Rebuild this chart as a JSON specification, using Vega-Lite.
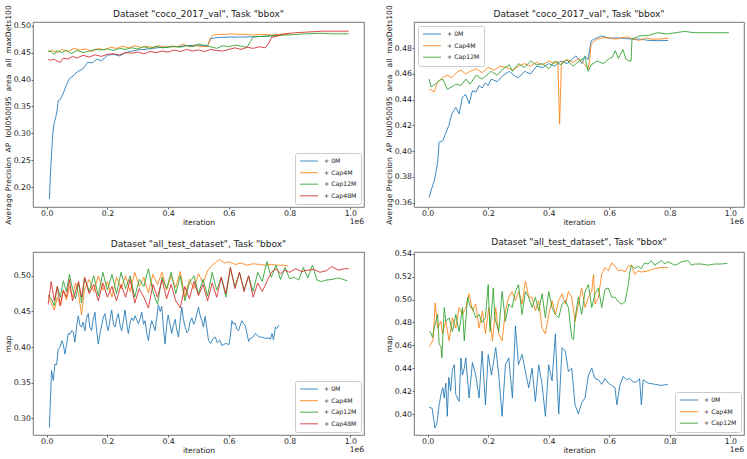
{
  "$schema": "https://vega.github.io/schema/vega-lite/v6.json",
  "padding": {"left": 3, "top": 4, "right": 0, "bottom": 0},
  "columns": 2,
  "spacing": {"row": 45, "column": 50},
  "bounds": "flush",
  "datasets": {
    "tl": [
      {"run": "+ 0M", "iter": 9000, "value": 0.178}, {"run": "+ 0M", "iter": 12000, "value": 0.22}, {"run": "+ 0M", "iter": 16000, "value": 0.26},
      {"run": "+ 0M", "iter": 20000, "value": 0.30}, {"run": "+ 0M", "iter": 25000, "value": 0.32}, {"run": "+ 0M", "iter": 30000, "value": 0.33},
      {"run": "+ 0M", "iter": 35000, "value": 0.345}, {"run": "+ 0M", "iter": 38000, "value": 0.361}, {"run": "+ 0M", "iter": 45000, "value": 0.363},
      {"run": "+ 0M", "iter": 55000, "value": 0.375}, {"run": "+ 0M", "iter": 65000, "value": 0.39}, {"run": "+ 0M", "iter": 75000, "value": 0.402},
      {"run": "+ 0M", "iter": 90000, "value": 0.408}, {"run": "+ 0M", "iter": 100000, "value": 0.414}, {"run": "+ 0M", "iter": 120000, "value": 0.42},
      {"run": "+ 0M", "iter": 135000, "value": 0.432}, {"run": "+ 0M", "iter": 150000, "value": 0.431}, {"run": "+ 0M", "iter": 165000, "value": 0.438},
      {"run": "+ 0M", "iter": 180000, "value": 0.435}, {"run": "+ 0M", "iter": 200000, "value": 0.445}, {"run": "+ 0M", "iter": 220000, "value": 0.447},
      {"run": "+ 0M", "iter": 240000, "value": 0.444}, {"run": "+ 0M", "iter": 260000, "value": 0.450}, {"run": "+ 0M", "iter": 280000, "value": 0.453},
      {"run": "+ 0M", "iter": 300000, "value": 0.455}, {"run": "+ 0M", "iter": 320000, "value": 0.456}, {"run": "+ 0M", "iter": 350000, "value": 0.458},
      {"run": "+ 0M", "iter": 380000, "value": 0.460}, {"run": "+ 0M", "iter": 400000, "value": 0.461}, {"run": "+ 0M", "iter": 430000, "value": 0.461},
      {"run": "+ 0M", "iter": 460000, "value": 0.463}, {"run": "+ 0M", "iter": 500000, "value": 0.464}, {"run": "+ 0M", "iter": 530000, "value": 0.463},
      {"run": "+ 0M", "iter": 540000, "value": 0.476}, {"run": "+ 0M", "iter": 560000, "value": 0.478}, {"run": "+ 0M", "iter": 600000, "value": 0.479},
      {"run": "+ 0M", "iter": 650000, "value": 0.479}, {"run": "+ 0M", "iter": 700000, "value": 0.480}, {"run": "+ 0M", "iter": 740000, "value": 0.481},
      {"run": "+ 0M", "iter": 770000, "value": 0.482},
      {"run": "+ Cap4M", "iter": 5000, "value": 0.452}, {"run": "+ Cap4M", "iter": 20000, "value": 0.454}, {"run": "+ Cap4M", "iter": 35000, "value": 0.450},
      {"run": "+ Cap4M", "iter": 50000, "value": 0.456}, {"run": "+ Cap4M", "iter": 70000, "value": 0.452}, {"run": "+ Cap4M", "iter": 90000, "value": 0.458},
      {"run": "+ Cap4M", "iter": 110000, "value": 0.455}, {"run": "+ Cap4M", "iter": 130000, "value": 0.457}, {"run": "+ Cap4M", "iter": 150000, "value": 0.452},
      {"run": "+ Cap4M", "iter": 170000, "value": 0.458}, {"run": "+ Cap4M", "iter": 190000, "value": 0.455}, {"run": "+ Cap4M", "iter": 210000, "value": 0.460},
      {"run": "+ Cap4M", "iter": 230000, "value": 0.458}, {"run": "+ Cap4M", "iter": 250000, "value": 0.462}, {"run": "+ Cap4M", "iter": 270000, "value": 0.459},
      {"run": "+ Cap4M", "iter": 290000, "value": 0.463}, {"run": "+ Cap4M", "iter": 310000, "value": 0.460}, {"run": "+ Cap4M", "iter": 330000, "value": 0.462},
      {"run": "+ Cap4M", "iter": 350000, "value": 0.459}, {"run": "+ Cap4M", "iter": 370000, "value": 0.463}, {"run": "+ Cap4M", "iter": 390000, "value": 0.460},
      {"run": "+ Cap4M", "iter": 410000, "value": 0.462}, {"run": "+ Cap4M", "iter": 430000, "value": 0.461}, {"run": "+ Cap4M", "iter": 450000, "value": 0.466},
      {"run": "+ Cap4M", "iter": 470000, "value": 0.461}, {"run": "+ Cap4M", "iter": 490000, "value": 0.463}, {"run": "+ Cap4M", "iter": 510000, "value": 0.461},
      {"run": "+ Cap4M", "iter": 530000, "value": 0.462}, {"run": "+ Cap4M", "iter": 540000, "value": 0.478}, {"run": "+ Cap4M", "iter": 550000, "value": 0.483},
      {"run": "+ Cap4M", "iter": 570000, "value": 0.484}, {"run": "+ Cap4M", "iter": 590000, "value": 0.484}, {"run": "+ Cap4M", "iter": 610000, "value": 0.485},
      {"run": "+ Cap4M", "iter": 630000, "value": 0.484}, {"run": "+ Cap4M", "iter": 650000, "value": 0.484}, {"run": "+ Cap4M", "iter": 680000, "value": 0.483},
      {"run": "+ Cap4M", "iter": 710000, "value": 0.484}, {"run": "+ Cap4M", "iter": 740000, "value": 0.483}, {"run": "+ Cap4M", "iter": 770000, "value": 0.484},
      {"run": "+ Cap4M", "iter": 800000, "value": 0.484},
      {"run": "+ Cap12M", "iter": 5000, "value": 0.453}, {"run": "+ Cap12M", "iter": 15000, "value": 0.452}, {"run": "+ Cap12M", "iter": 25000, "value": 0.447},
      {"run": "+ Cap12M", "iter": 35000, "value": 0.454}, {"run": "+ Cap12M", "iter": 50000, "value": 0.450}, {"run": "+ Cap12M", "iter": 65000, "value": 0.455},
      {"run": "+ Cap12M", "iter": 80000, "value": 0.448}, {"run": "+ Cap12M", "iter": 100000, "value": 0.454}, {"run": "+ Cap12M", "iter": 120000, "value": 0.450},
      {"run": "+ Cap12M", "iter": 140000, "value": 0.453}, {"run": "+ Cap12M", "iter": 160000, "value": 0.456}, {"run": "+ Cap12M", "iter": 180000, "value": 0.455},
      {"run": "+ Cap12M", "iter": 200000, "value": 0.457}, {"run": "+ Cap12M", "iter": 220000, "value": 0.454}, {"run": "+ Cap12M", "iter": 240000, "value": 0.458},
      {"run": "+ Cap12M", "iter": 260000, "value": 0.456}, {"run": "+ Cap12M", "iter": 280000, "value": 0.459}, {"run": "+ Cap12M", "iter": 300000, "value": 0.457},
      {"run": "+ Cap12M", "iter": 320000, "value": 0.461}, {"run": "+ Cap12M", "iter": 340000, "value": 0.458}, {"run": "+ Cap12M", "iter": 360000, "value": 0.462},
      {"run": "+ Cap12M", "iter": 380000, "value": 0.459}, {"run": "+ Cap12M", "iter": 400000, "value": 0.460}, {"run": "+ Cap12M", "iter": 420000, "value": 0.462},
      {"run": "+ Cap12M", "iter": 440000, "value": 0.460}, {"run": "+ Cap12M", "iter": 460000, "value": 0.463}, {"run": "+ Cap12M", "iter": 480000, "value": 0.461},
      {"run": "+ Cap12M", "iter": 500000, "value": 0.466}, {"run": "+ Cap12M", "iter": 520000, "value": 0.463}, {"run": "+ Cap12M", "iter": 540000, "value": 0.461},
      {"run": "+ Cap12M", "iter": 560000, "value": 0.458}, {"run": "+ Cap12M", "iter": 580000, "value": 0.463}, {"run": "+ Cap12M", "iter": 600000, "value": 0.461},
      {"run": "+ Cap12M", "iter": 620000, "value": 0.464}, {"run": "+ Cap12M", "iter": 640000, "value": 0.462}, {"run": "+ Cap12M", "iter": 660000, "value": 0.460},
      {"run": "+ Cap12M", "iter": 670000, "value": 0.470}, {"run": "+ Cap12M", "iter": 680000, "value": 0.479}, {"run": "+ Cap12M", "iter": 700000, "value": 0.480},
      {"run": "+ Cap12M", "iter": 730000, "value": 0.481}, {"run": "+ Cap12M", "iter": 760000, "value": 0.482}, {"run": "+ Cap12M", "iter": 800000, "value": 0.483},
      {"run": "+ Cap12M", "iter": 850000, "value": 0.485}, {"run": "+ Cap12M", "iter": 900000, "value": 0.486}, {"run": "+ Cap12M", "iter": 950000, "value": 0.485},
      {"run": "+ Cap12M", "iter": 995000, "value": 0.485},
      {"run": "+ Cap48M", "iter": 5000, "value": 0.437}, {"run": "+ Cap48M", "iter": 15000, "value": 0.436}, {"run": "+ Cap48M", "iter": 25000, "value": 0.438},
      {"run": "+ Cap48M", "iter": 35000, "value": 0.434}, {"run": "+ Cap48M", "iter": 45000, "value": 0.432}, {"run": "+ Cap48M", "iter": 55000, "value": 0.440},
      {"run": "+ Cap48M", "iter": 70000, "value": 0.438}, {"run": "+ Cap48M", "iter": 85000, "value": 0.443}, {"run": "+ Cap48M", "iter": 100000, "value": 0.440},
      {"run": "+ Cap48M", "iter": 120000, "value": 0.445}, {"run": "+ Cap48M", "iter": 140000, "value": 0.442}, {"run": "+ Cap48M", "iter": 160000, "value": 0.446},
      {"run": "+ Cap48M", "iter": 180000, "value": 0.443}, {"run": "+ Cap48M", "iter": 200000, "value": 0.447}, {"run": "+ Cap48M", "iter": 220000, "value": 0.448},
      {"run": "+ Cap48M", "iter": 240000, "value": 0.446}, {"run": "+ Cap48M", "iter": 260000, "value": 0.450}, {"run": "+ Cap48M", "iter": 280000, "value": 0.449},
      {"run": "+ Cap48M", "iter": 300000, "value": 0.451}, {"run": "+ Cap48M", "iter": 320000, "value": 0.448}, {"run": "+ Cap48M", "iter": 340000, "value": 0.452},
      {"run": "+ Cap48M", "iter": 360000, "value": 0.450}, {"run": "+ Cap48M", "iter": 380000, "value": 0.453}, {"run": "+ Cap48M", "iter": 400000, "value": 0.451},
      {"run": "+ Cap48M", "iter": 420000, "value": 0.455}, {"run": "+ Cap48M", "iter": 440000, "value": 0.452}, {"run": "+ Cap48M", "iter": 460000, "value": 0.456},
      {"run": "+ Cap48M", "iter": 480000, "value": 0.453}, {"run": "+ Cap48M", "iter": 500000, "value": 0.455}, {"run": "+ Cap48M", "iter": 520000, "value": 0.452},
      {"run": "+ Cap48M", "iter": 540000, "value": 0.456}, {"run": "+ Cap48M", "iter": 560000, "value": 0.454}, {"run": "+ Cap48M", "iter": 580000, "value": 0.453},
      {"run": "+ Cap48M", "iter": 600000, "value": 0.456}, {"run": "+ Cap48M", "iter": 620000, "value": 0.459}, {"run": "+ Cap48M", "iter": 640000, "value": 0.456},
      {"run": "+ Cap48M", "iter": 660000, "value": 0.460}, {"run": "+ Cap48M", "iter": 680000, "value": 0.458}, {"run": "+ Cap48M", "iter": 700000, "value": 0.461},
      {"run": "+ Cap48M", "iter": 720000, "value": 0.459}, {"run": "+ Cap48M", "iter": 730000, "value": 0.466}, {"run": "+ Cap48M", "iter": 740000, "value": 0.478},
      {"run": "+ Cap48M", "iter": 760000, "value": 0.481}, {"run": "+ Cap48M", "iter": 780000, "value": 0.485}, {"run": "+ Cap48M", "iter": 800000, "value": 0.486},
      {"run": "+ Cap48M", "iter": 820000, "value": 0.487}, {"run": "+ Cap48M", "iter": 850000, "value": 0.488}, {"run": "+ Cap48M", "iter": 880000, "value": 0.489},
      {"run": "+ Cap48M", "iter": 910000, "value": 0.490}, {"run": "+ Cap48M", "iter": 940000, "value": 0.490}, {"run": "+ Cap48M", "iter": 970000, "value": 0.490},
      {"run": "+ Cap48M", "iter": 995000, "value": 0.490}
    ],
    "tr": [
      {"run": "+ 0M", "iter": 5000, "value": 0.364}, {"run": "+ 0M", "iter": 12000, "value": 0.370}, {"run": "+ 0M", "iter": 22000, "value": 0.377},
      {"run": "+ 0M", "iter": 33000, "value": 0.391}, {"run": "+ 0M", "iter": 38000, "value": 0.407}, {"run": "+ 0M", "iter": 50000, "value": 0.408},
      {"run": "+ 0M", "iter": 60000, "value": 0.414}, {"run": "+ 0M", "iter": 70000, "value": 0.420}, {"run": "+ 0M", "iter": 80000, "value": 0.429},
      {"run": "+ 0M", "iter": 93000, "value": 0.434}, {"run": "+ 0M", "iter": 104000, "value": 0.429}, {"run": "+ 0M", "iter": 115000, "value": 0.442},
      {"run": "+ 0M", "iter": 126000, "value": 0.444}, {"run": "+ 0M", "iter": 137000, "value": 0.437}, {"run": "+ 0M", "iter": 148000, "value": 0.447},
      {"run": "+ 0M", "iter": 160000, "value": 0.446}, {"run": "+ 0M", "iter": 170000, "value": 0.451}, {"run": "+ 0M", "iter": 180000, "value": 0.449},
      {"run": "+ 0M", "iter": 190000, "value": 0.453}, {"run": "+ 0M", "iter": 200000, "value": 0.451}, {"run": "+ 0M", "iter": 210000, "value": 0.456},
      {"run": "+ 0M", "iter": 230000, "value": 0.454}, {"run": "+ 0M", "iter": 250000, "value": 0.459}, {"run": "+ 0M", "iter": 270000, "value": 0.462},
      {"run": "+ 0M", "iter": 290000, "value": 0.458}, {"run": "+ 0M", "iter": 300000, "value": 0.457}, {"run": "+ 0M", "iter": 320000, "value": 0.462},
      {"run": "+ 0M", "iter": 340000, "value": 0.460}, {"run": "+ 0M", "iter": 360000, "value": 0.466}, {"run": "+ 0M", "iter": 380000, "value": 0.465},
      {"run": "+ 0M", "iter": 400000, "value": 0.468}, {"run": "+ 0M", "iter": 420000, "value": 0.466}, {"run": "+ 0M", "iter": 440000, "value": 0.470},
      {"run": "+ 0M", "iter": 460000, "value": 0.468}, {"run": "+ 0M", "iter": 480000, "value": 0.472}, {"run": "+ 0M", "iter": 490000, "value": 0.474},
      {"run": "+ 0M", "iter": 510000, "value": 0.468}, {"run": "+ 0M", "iter": 520000, "value": 0.474}, {"run": "+ 0M", "iter": 530000, "value": 0.471},
      {"run": "+ 0M", "iter": 540000, "value": 0.4857}, {"run": "+ 0M", "iter": 560000, "value": 0.488}, {"run": "+ 0M", "iter": 575000, "value": 0.4895},
      {"run": "+ 0M", "iter": 600000, "value": 0.4877}, {"run": "+ 0M", "iter": 630000, "value": 0.488}, {"run": "+ 0M", "iter": 650000, "value": 0.4875},
      {"run": "+ 0M", "iter": 680000, "value": 0.487}, {"run": "+ 0M", "iter": 700000, "value": 0.487}, {"run": "+ 0M", "iter": 730000, "value": 0.486},
      {"run": "+ 0M", "iter": 760000, "value": 0.4858}, {"run": "+ 0M", "iter": 795000, "value": 0.486},
      {"run": "+ Cap4M", "iter": 5000, "value": 0.447}, {"run": "+ Cap4M", "iter": 11000, "value": 0.448}, {"run": "+ Cap4M", "iter": 22000, "value": 0.446},
      {"run": "+ Cap4M", "iter": 30000, "value": 0.452}, {"run": "+ Cap4M", "iter": 38000, "value": 0.455}, {"run": "+ Cap4M", "iter": 50000, "value": 0.457},
      {"run": "+ Cap4M", "iter": 65000, "value": 0.459}, {"run": "+ Cap4M", "iter": 80000, "value": 0.457}, {"run": "+ Cap4M", "iter": 95000, "value": 0.461},
      {"run": "+ Cap4M", "iter": 110000, "value": 0.463}, {"run": "+ Cap4M", "iter": 125000, "value": 0.460}, {"run": "+ Cap4M", "iter": 140000, "value": 0.462},
      {"run": "+ Cap4M", "iter": 160000, "value": 0.464}, {"run": "+ Cap4M", "iter": 180000, "value": 0.461}, {"run": "+ Cap4M", "iter": 200000, "value": 0.465},
      {"run": "+ Cap4M", "iter": 220000, "value": 0.463}, {"run": "+ Cap4M", "iter": 240000, "value": 0.466}, {"run": "+ Cap4M", "iter": 260000, "value": 0.465},
      {"run": "+ Cap4M", "iter": 280000, "value": 0.463}, {"run": "+ Cap4M", "iter": 300000, "value": 0.466}, {"run": "+ Cap4M", "iter": 320000, "value": 0.468},
      {"run": "+ Cap4M", "iter": 340000, "value": 0.466}, {"run": "+ Cap4M", "iter": 360000, "value": 0.469}, {"run": "+ Cap4M", "iter": 380000, "value": 0.467},
      {"run": "+ Cap4M", "iter": 400000, "value": 0.470}, {"run": "+ Cap4M", "iter": 420000, "value": 0.468}, {"run": "+ Cap4M", "iter": 430000, "value": 0.470},
      {"run": "+ Cap4M", "iter": 436000, "value": 0.421}, {"run": "+ Cap4M", "iter": 442000, "value": 0.469}, {"run": "+ Cap4M", "iter": 460000, "value": 0.471},
      {"run": "+ Cap4M", "iter": 480000, "value": 0.469}, {"run": "+ Cap4M", "iter": 500000, "value": 0.472}, {"run": "+ Cap4M", "iter": 520000, "value": 0.467},
      {"run": "+ Cap4M", "iter": 530000, "value": 0.464}, {"run": "+ Cap4M", "iter": 535000, "value": 0.470}, {"run": "+ Cap4M", "iter": 540000, "value": 0.483},
      {"run": "+ Cap4M", "iter": 560000, "value": 0.487}, {"run": "+ Cap4M", "iter": 580000, "value": 0.488}, {"run": "+ Cap4M", "iter": 600000, "value": 0.488},
      {"run": "+ Cap4M", "iter": 620000, "value": 0.487}, {"run": "+ Cap4M", "iter": 640000, "value": 0.488}, {"run": "+ Cap4M", "iter": 660000, "value": 0.4888},
      {"run": "+ Cap4M", "iter": 680000, "value": 0.487}, {"run": "+ Cap4M", "iter": 700000, "value": 0.486}, {"run": "+ Cap4M", "iter": 720000, "value": 0.488},
      {"run": "+ Cap4M", "iter": 740000, "value": 0.487}, {"run": "+ Cap4M", "iter": 760000, "value": 0.487}, {"run": "+ Cap4M", "iter": 795000, "value": 0.4877},
      {"run": "+ Cap12M", "iter": 5000, "value": 0.456}, {"run": "+ Cap12M", "iter": 11000, "value": 0.450}, {"run": "+ Cap12M", "iter": 25000, "value": 0.452},
      {"run": "+ Cap12M", "iter": 40000, "value": 0.455}, {"run": "+ Cap12M", "iter": 50000, "value": 0.456}, {"run": "+ Cap12M", "iter": 65000, "value": 0.448},
      {"run": "+ Cap12M", "iter": 80000, "value": 0.450}, {"run": "+ Cap12M", "iter": 93000, "value": 0.452}, {"run": "+ Cap12M", "iter": 110000, "value": 0.451},
      {"run": "+ Cap12M", "iter": 126000, "value": 0.456}, {"run": "+ Cap12M", "iter": 140000, "value": 0.452}, {"run": "+ Cap12M", "iter": 160000, "value": 0.459},
      {"run": "+ Cap12M", "iter": 180000, "value": 0.456}, {"run": "+ Cap12M", "iter": 200000, "value": 0.460}, {"run": "+ Cap12M", "iter": 210000, "value": 0.462},
      {"run": "+ Cap12M", "iter": 230000, "value": 0.459}, {"run": "+ Cap12M", "iter": 250000, "value": 0.464}, {"run": "+ Cap12M", "iter": 270000, "value": 0.467},
      {"run": "+ Cap12M", "iter": 280000, "value": 0.462}, {"run": "+ Cap12M", "iter": 300000, "value": 0.468}, {"run": "+ Cap12M", "iter": 320000, "value": 0.465},
      {"run": "+ Cap12M", "iter": 340000, "value": 0.470}, {"run": "+ Cap12M", "iter": 360000, "value": 0.467}, {"run": "+ Cap12M", "iter": 380000, "value": 0.468},
      {"run": "+ Cap12M", "iter": 400000, "value": 0.464}, {"run": "+ Cap12M", "iter": 420000, "value": 0.470}, {"run": "+ Cap12M", "iter": 440000, "value": 0.467},
      {"run": "+ Cap12M", "iter": 460000, "value": 0.471}, {"run": "+ Cap12M", "iter": 480000, "value": 0.466}, {"run": "+ Cap12M", "iter": 500000, "value": 0.470},
      {"run": "+ Cap12M", "iter": 520000, "value": 0.473}, {"run": "+ Cap12M", "iter": 530000, "value": 0.462}, {"run": "+ Cap12M", "iter": 540000, "value": 0.467},
      {"run": "+ Cap12M", "iter": 560000, "value": 0.470}, {"run": "+ Cap12M", "iter": 580000, "value": 0.468}, {"run": "+ Cap12M", "iter": 600000, "value": 0.472},
      {"run": "+ Cap12M", "iter": 610000, "value": 0.473}, {"run": "+ Cap12M", "iter": 620000, "value": 0.478}, {"run": "+ Cap12M", "iter": 630000, "value": 0.472},
      {"run": "+ Cap12M", "iter": 645000, "value": 0.479}, {"run": "+ Cap12M", "iter": 655000, "value": 0.4715}, {"run": "+ Cap12M", "iter": 665000, "value": 0.470},
      {"run": "+ Cap12M", "iter": 672000, "value": 0.470}, {"run": "+ Cap12M", "iter": 675000, "value": 0.487}, {"run": "+ Cap12M", "iter": 700000, "value": 0.4895},
      {"run": "+ Cap12M", "iter": 730000, "value": 0.490}, {"run": "+ Cap12M", "iter": 760000, "value": 0.492}, {"run": "+ Cap12M", "iter": 790000, "value": 0.491},
      {"run": "+ Cap12M", "iter": 820000, "value": 0.492}, {"run": "+ Cap12M", "iter": 850000, "value": 0.493}, {"run": "+ Cap12M", "iter": 880000, "value": 0.492},
      {"run": "+ Cap12M", "iter": 910000, "value": 0.492}, {"run": "+ Cap12M", "iter": 940000, "value": 0.492}, {"run": "+ Cap12M", "iter": 970000, "value": 0.492},
      {"run": "+ Cap12M", "iter": 995000, "value": 0.492}
    ],
    "bl": [
      {"run": "+ 0M", "iter": 9000, "value": 0.287}, {"run": "+ 0M", "iter": 16000, "value": 0.367}, {"run": "+ 0M", "iter": 22000, "value": 0.353},
      {"run": "+ 0M", "iter": 27000, "value": 0.376}, {"run": "+ 0M", "iter": 33000, "value": 0.375}, {"run": "+ 0M", "iter": 38000, "value": 0.397},
      {"run": "+ 0M", "iter": 44000, "value": 0.400}, {"run": "+ 0M", "iter": 50000, "value": 0.409}, {"run": "+ 0M", "iter": 55000, "value": 0.403},
      {"run": "+ 0M", "iter": 60000, "value": 0.390}, {"run": "+ 0M", "iter": 65000, "value": 0.402}, {"run": "+ 0M", "iter": 71000, "value": 0.419},
      {"run": "+ 0M", "iter": 77000, "value": 0.418}, {"run": "+ 0M", "iter": 82000, "value": 0.423}, {"run": "+ 0M", "iter": 88000, "value": 0.421},
      {"run": "+ 0M", "iter": 93000, "value": 0.407}, {"run": "+ 0M", "iter": 99000, "value": 0.430}, {"run": "+ 0M", "iter": 104000, "value": 0.444},
      {"run": "+ 0M", "iter": 110000, "value": 0.430}, {"run": "+ 0M", "iter": 115000, "value": 0.428}, {"run": "+ 0M", "iter": 120000, "value": 0.435},
      {"run": "+ 0M", "iter": 126000, "value": 0.423}, {"run": "+ 0M", "iter": 131000, "value": 0.440}, {"run": "+ 0M", "iter": 137000, "value": 0.447},
      {"run": "+ 0M", "iter": 142000, "value": 0.428}, {"run": "+ 0M", "iter": 148000, "value": 0.423}, {"run": "+ 0M", "iter": 153000, "value": 0.438},
      {"run": "+ 0M", "iter": 159000, "value": 0.449}, {"run": "+ 0M", "iter": 164000, "value": 0.425}, {"run": "+ 0M", "iter": 170000, "value": 0.404},
      {"run": "+ 0M", "iter": 176000, "value": 0.420}, {"run": "+ 0M", "iter": 181000, "value": 0.430}, {"run": "+ 0M", "iter": 187000, "value": 0.442},
      {"run": "+ 0M", "iter": 192000, "value": 0.447}, {"run": "+ 0M", "iter": 198000, "value": 0.430}, {"run": "+ 0M", "iter": 203000, "value": 0.423},
      {"run": "+ 0M", "iter": 209000, "value": 0.440}, {"run": "+ 0M", "iter": 214000, "value": 0.452}, {"run": "+ 0M", "iter": 220000, "value": 0.432},
      {"run": "+ 0M", "iter": 225000, "value": 0.428}, {"run": "+ 0M", "iter": 231000, "value": 0.440}, {"run": "+ 0M", "iter": 236000, "value": 0.447},
      {"run": "+ 0M", "iter": 242000, "value": 0.430}, {"run": "+ 0M", "iter": 247000, "value": 0.423}, {"run": "+ 0M", "iter": 253000, "value": 0.438},
      {"run": "+ 0M", "iter": 258000, "value": 0.452}, {"run": "+ 0M", "iter": 264000, "value": 0.432}, {"run": "+ 0M", "iter": 269000, "value": 0.419},
      {"run": "+ 0M", "iter": 275000, "value": 0.435}, {"run": "+ 0M", "iter": 280000, "value": 0.441}, {"run": "+ 0M", "iter": 286000, "value": 0.437},
      {"run": "+ 0M", "iter": 291000, "value": 0.444}, {"run": "+ 0M", "iter": 297000, "value": 0.438}, {"run": "+ 0M", "iter": 302000, "value": 0.433},
      {"run": "+ 0M", "iter": 308000, "value": 0.440}, {"run": "+ 0M", "iter": 313000, "value": 0.449}, {"run": "+ 0M", "iter": 319000, "value": 0.432},
      {"run": "+ 0M", "iter": 324000, "value": 0.437}, {"run": "+ 0M", "iter": 330000, "value": 0.418}, {"run": "+ 0M", "iter": 335000, "value": 0.409},
      {"run": "+ 0M", "iter": 340000, "value": 0.425}, {"run": "+ 0M", "iter": 346000, "value": 0.437}, {"run": "+ 0M", "iter": 352000, "value": 0.430},
      {"run": "+ 0M", "iter": 357000, "value": 0.423}, {"run": "+ 0M", "iter": 362000, "value": 0.440}, {"run": "+ 0M", "iter": 368000, "value": 0.459},
      {"run": "+ 0M", "iter": 374000, "value": 0.450}, {"run": "+ 0M", "iter": 379000, "value": 0.457}, {"run": "+ 0M", "iter": 385000, "value": 0.425},
      {"run": "+ 0M", "iter": 390000, "value": 0.404}, {"run": "+ 0M", "iter": 395000, "value": 0.430}, {"run": "+ 0M", "iter": 400000, "value": 0.445},
      {"run": "+ 0M", "iter": 406000, "value": 0.432}, {"run": "+ 0M", "iter": 412000, "value": 0.419}, {"run": "+ 0M", "iter": 417000, "value": 0.430},
      {"run": "+ 0M", "iter": 423000, "value": 0.439}, {"run": "+ 0M", "iter": 428000, "value": 0.425}, {"run": "+ 0M", "iter": 434000, "value": 0.414},
      {"run": "+ 0M", "iter": 440000, "value": 0.438}, {"run": "+ 0M", "iter": 445000, "value": 0.456}, {"run": "+ 0M", "iter": 450000, "value": 0.440},
      {"run": "+ 0M", "iter": 456000, "value": 0.428}, {"run": "+ 0M", "iter": 462000, "value": 0.420}, {"run": "+ 0M", "iter": 467000, "value": 0.423},
      {"run": "+ 0M", "iter": 472000, "value": 0.435}, {"run": "+ 0M", "iter": 478000, "value": 0.441}, {"run": "+ 0M", "iter": 484000, "value": 0.432},
      {"run": "+ 0M", "iter": 489000, "value": 0.437}, {"run": "+ 0M", "iter": 495000, "value": 0.448}, {"run": "+ 0M", "iter": 500000, "value": 0.456},
      {"run": "+ 0M", "iter": 505000, "value": 0.445}, {"run": "+ 0M", "iter": 511000, "value": 0.437}, {"run": "+ 0M", "iter": 516000, "value": 0.428},
      {"run": "+ 0M", "iter": 522000, "value": 0.443}, {"run": "+ 0M", "iter": 527000, "value": 0.428}, {"run": "+ 0M", "iter": 533000, "value": 0.409},
      {"run": "+ 0M", "iter": 540000, "value": 0.405}, {"run": "+ 0M", "iter": 548000, "value": 0.412}, {"run": "+ 0M", "iter": 555000, "value": 0.414},
      {"run": "+ 0M", "iter": 562000, "value": 0.406}, {"run": "+ 0M", "iter": 570000, "value": 0.410}, {"run": "+ 0M", "iter": 577000, "value": 0.402},
      {"run": "+ 0M", "iter": 585000, "value": 0.404}, {"run": "+ 0M", "iter": 592000, "value": 0.405}, {"run": "+ 0M", "iter": 600000, "value": 0.403},
      {"run": "+ 0M", "iter": 605000, "value": 0.415}, {"run": "+ 0M", "iter": 610000, "value": 0.437}, {"run": "+ 0M", "iter": 615000, "value": 0.432},
      {"run": "+ 0M", "iter": 620000, "value": 0.434}, {"run": "+ 0M", "iter": 626000, "value": 0.425}, {"run": "+ 0M", "iter": 632000, "value": 0.423},
      {"run": "+ 0M", "iter": 637000, "value": 0.430}, {"run": "+ 0M", "iter": 643000, "value": 0.437}, {"run": "+ 0M", "iter": 648000, "value": 0.433},
      {"run": "+ 0M", "iter": 654000, "value": 0.430}, {"run": "+ 0M", "iter": 660000, "value": 0.418}, {"run": "+ 0M", "iter": 665000, "value": 0.408},
      {"run": "+ 0M", "iter": 670000, "value": 0.412}, {"run": "+ 0M", "iter": 676000, "value": 0.413}, {"run": "+ 0M", "iter": 682000, "value": 0.415},
      {"run": "+ 0M", "iter": 687000, "value": 0.419}, {"run": "+ 0M", "iter": 693000, "value": 0.417}, {"run": "+ 0M", "iter": 700000, "value": 0.414},
      {"run": "+ 0M", "iter": 709000, "value": 0.414}, {"run": "+ 0M", "iter": 720000, "value": 0.412}, {"run": "+ 0M", "iter": 731000, "value": 0.413},
      {"run": "+ 0M", "iter": 737000, "value": 0.411}, {"run": "+ 0M", "iter": 742000, "value": 0.419}, {"run": "+ 0M", "iter": 747000, "value": 0.410},
      {"run": "+ 0M", "iter": 753000, "value": 0.428}, {"run": "+ 0M", "iter": 758000, "value": 0.426}, {"run": "+ 0M", "iter": 764000, "value": 0.431},
      {"run": "+ Cap4M", "iter": 5000, "value": 0.473}, {"run": "+ Cap4M", "iter": 15000, "value": 0.462}, {"run": "+ Cap4M", "iter": 25000, "value": 0.452},
      {"run": "+ Cap4M", "iter": 35000, "value": 0.470}, {"run": "+ Cap4M", "iter": 45000, "value": 0.458}, {"run": "+ Cap4M", "iter": 55000, "value": 0.480},
      {"run": "+ Cap4M", "iter": 65000, "value": 0.466}, {"run": "+ Cap4M", "iter": 75000, "value": 0.485}, {"run": "+ Cap4M", "iter": 85000, "value": 0.470},
      {"run": "+ Cap4M", "iter": 95000, "value": 0.490}, {"run": "+ Cap4M", "iter": 105000, "value": 0.475}, {"run": "+ Cap4M", "iter": 115000, "value": 0.445},
      {"run": "+ Cap4M", "iter": 125000, "value": 0.482}, {"run": "+ Cap4M", "iter": 140000, "value": 0.495}, {"run": "+ Cap4M", "iter": 155000, "value": 0.478},
      {"run": "+ Cap4M", "iter": 170000, "value": 0.500}, {"run": "+ Cap4M", "iter": 185000, "value": 0.480}, {"run": "+ Cap4M", "iter": 200000, "value": 0.492},
      {"run": "+ Cap4M", "iter": 215000, "value": 0.470}, {"run": "+ Cap4M", "iter": 230000, "value": 0.498}, {"run": "+ Cap4M", "iter": 245000, "value": 0.482},
      {"run": "+ Cap4M", "iter": 260000, "value": 0.500}, {"run": "+ Cap4M", "iter": 275000, "value": 0.478}, {"run": "+ Cap4M", "iter": 290000, "value": 0.505},
      {"run": "+ Cap4M", "iter": 305000, "value": 0.485}, {"run": "+ Cap4M", "iter": 320000, "value": 0.498}, {"run": "+ Cap4M", "iter": 335000, "value": 0.476},
      {"run": "+ Cap4M", "iter": 350000, "value": 0.502}, {"run": "+ Cap4M", "iter": 365000, "value": 0.488}, {"run": "+ Cap4M", "iter": 380000, "value": 0.505},
      {"run": "+ Cap4M", "iter": 395000, "value": 0.480}, {"run": "+ Cap4M", "iter": 410000, "value": 0.500}, {"run": "+ Cap4M", "iter": 425000, "value": 0.484},
      {"run": "+ Cap4M", "iter": 440000, "value": 0.506}, {"run": "+ Cap4M", "iter": 455000, "value": 0.470}, {"run": "+ Cap4M", "iter": 470000, "value": 0.495},
      {"run": "+ Cap4M", "iter": 485000, "value": 0.482}, {"run": "+ Cap4M", "iter": 500000, "value": 0.503}, {"run": "+ Cap4M", "iter": 515000, "value": 0.490},
      {"run": "+ Cap4M", "iter": 530000, "value": 0.507}, {"run": "+ Cap4M", "iter": 545000, "value": 0.515}, {"run": "+ Cap4M", "iter": 560000, "value": 0.520},
      {"run": "+ Cap4M", "iter": 570000, "value": 0.523}, {"run": "+ Cap4M", "iter": 585000, "value": 0.518}, {"run": "+ Cap4M", "iter": 600000, "value": 0.520},
      {"run": "+ Cap4M", "iter": 620000, "value": 0.516}, {"run": "+ Cap4M", "iter": 640000, "value": 0.518}, {"run": "+ Cap4M", "iter": 660000, "value": 0.515},
      {"run": "+ Cap4M", "iter": 680000, "value": 0.517}, {"run": "+ Cap4M", "iter": 700000, "value": 0.516}, {"run": "+ Cap4M", "iter": 720000, "value": 0.515},
      {"run": "+ Cap4M", "iter": 740000, "value": 0.516}, {"run": "+ Cap4M", "iter": 760000, "value": 0.515}, {"run": "+ Cap4M", "iter": 780000, "value": 0.515},
      {"run": "+ Cap4M", "iter": 795000, "value": 0.514},
      {"run": "+ Cap12M", "iter": 5000, "value": 0.473}, {"run": "+ Cap12M", "iter": 15000, "value": 0.468}, {"run": "+ Cap12M", "iter": 25000, "value": 0.458},
      {"run": "+ Cap12M", "iter": 35000, "value": 0.485}, {"run": "+ Cap12M", "iter": 45000, "value": 0.470}, {"run": "+ Cap12M", "iter": 55000, "value": 0.493},
      {"run": "+ Cap12M", "iter": 65000, "value": 0.478}, {"run": "+ Cap12M", "iter": 75000, "value": 0.502}, {"run": "+ Cap12M", "iter": 85000, "value": 0.482},
      {"run": "+ Cap12M", "iter": 95000, "value": 0.468}, {"run": "+ Cap12M", "iter": 105000, "value": 0.490}, {"run": "+ Cap12M", "iter": 115000, "value": 0.462},
      {"run": "+ Cap12M", "iter": 125000, "value": 0.497}, {"run": "+ Cap12M", "iter": 140000, "value": 0.478}, {"run": "+ Cap12M", "iter": 155000, "value": 0.500},
      {"run": "+ Cap12M", "iter": 170000, "value": 0.472}, {"run": "+ Cap12M", "iter": 185000, "value": 0.505}, {"run": "+ Cap12M", "iter": 200000, "value": 0.480},
      {"run": "+ Cap12M", "iter": 215000, "value": 0.502}, {"run": "+ Cap12M", "iter": 230000, "value": 0.475}, {"run": "+ Cap12M", "iter": 245000, "value": 0.505},
      {"run": "+ Cap12M", "iter": 260000, "value": 0.482}, {"run": "+ Cap12M", "iter": 275000, "value": 0.500}, {"run": "+ Cap12M", "iter": 290000, "value": 0.470},
      {"run": "+ Cap12M", "iter": 305000, "value": 0.495}, {"run": "+ Cap12M", "iter": 320000, "value": 0.485}, {"run": "+ Cap12M", "iter": 335000, "value": 0.510},
      {"run": "+ Cap12M", "iter": 350000, "value": 0.478}, {"run": "+ Cap12M", "iter": 365000, "value": 0.460}, {"run": "+ Cap12M", "iter": 380000, "value": 0.498},
      {"run": "+ Cap12M", "iter": 395000, "value": 0.482}, {"run": "+ Cap12M", "iter": 410000, "value": 0.505}, {"run": "+ Cap12M", "iter": 425000, "value": 0.475},
      {"run": "+ Cap12M", "iter": 440000, "value": 0.500}, {"run": "+ Cap12M", "iter": 455000, "value": 0.465}, {"run": "+ Cap12M", "iter": 470000, "value": 0.490},
      {"run": "+ Cap12M", "iter": 485000, "value": 0.500}, {"run": "+ Cap12M", "iter": 500000, "value": 0.475}, {"run": "+ Cap12M", "iter": 515000, "value": 0.495},
      {"run": "+ Cap12M", "iter": 530000, "value": 0.472}, {"run": "+ Cap12M", "iter": 545000, "value": 0.505}, {"run": "+ Cap12M", "iter": 560000, "value": 0.480},
      {"run": "+ Cap12M", "iter": 575000, "value": 0.498}, {"run": "+ Cap12M", "iter": 590000, "value": 0.470}, {"run": "+ Cap12M", "iter": 605000, "value": 0.510},
      {"run": "+ Cap12M", "iter": 620000, "value": 0.485}, {"run": "+ Cap12M", "iter": 635000, "value": 0.505}, {"run": "+ Cap12M", "iter": 650000, "value": 0.480},
      {"run": "+ Cap12M", "iter": 665000, "value": 0.500}, {"run": "+ Cap12M", "iter": 680000, "value": 0.478}, {"run": "+ Cap12M", "iter": 695000, "value": 0.505},
      {"run": "+ Cap12M", "iter": 710000, "value": 0.492}, {"run": "+ Cap12M", "iter": 725000, "value": 0.520}, {"run": "+ Cap12M", "iter": 740000, "value": 0.498},
      {"run": "+ Cap12M", "iter": 755000, "value": 0.515}, {"run": "+ Cap12M", "iter": 770000, "value": 0.495}, {"run": "+ Cap12M", "iter": 785000, "value": 0.512},
      {"run": "+ Cap12M", "iter": 800000, "value": 0.496}, {"run": "+ Cap12M", "iter": 815000, "value": 0.498}, {"run": "+ Cap12M", "iter": 830000, "value": 0.494},
      {"run": "+ Cap12M", "iter": 845000, "value": 0.512}, {"run": "+ Cap12M", "iter": 860000, "value": 0.497}, {"run": "+ Cap12M", "iter": 875000, "value": 0.515},
      {"run": "+ Cap12M", "iter": 890000, "value": 0.494}, {"run": "+ Cap12M", "iter": 905000, "value": 0.492}, {"run": "+ Cap12M", "iter": 920000, "value": 0.494},
      {"run": "+ Cap12M", "iter": 940000, "value": 0.495}, {"run": "+ Cap12M", "iter": 960000, "value": 0.497}, {"run": "+ Cap12M", "iter": 975000, "value": 0.495},
      {"run": "+ Cap12M", "iter": 990000, "value": 0.493},
      {"run": "+ Cap48M", "iter": 5000, "value": 0.460}, {"run": "+ Cap48M", "iter": 15000, "value": 0.492}, {"run": "+ Cap48M", "iter": 25000, "value": 0.465},
      {"run": "+ Cap48M", "iter": 35000, "value": 0.485}, {"run": "+ Cap48M", "iter": 45000, "value": 0.458}, {"run": "+ Cap48M", "iter": 55000, "value": 0.480},
      {"run": "+ Cap48M", "iter": 65000, "value": 0.470}, {"run": "+ Cap48M", "iter": 75000, "value": 0.495}, {"run": "+ Cap48M", "iter": 85000, "value": 0.465},
      {"run": "+ Cap48M", "iter": 95000, "value": 0.478}, {"run": "+ Cap48M", "iter": 105000, "value": 0.492}, {"run": "+ Cap48M", "iter": 115000, "value": 0.470},
      {"run": "+ Cap48M", "iter": 125000, "value": 0.498}, {"run": "+ Cap48M", "iter": 140000, "value": 0.475}, {"run": "+ Cap48M", "iter": 155000, "value": 0.488},
      {"run": "+ Cap48M", "iter": 170000, "value": 0.465}, {"run": "+ Cap48M", "iter": 185000, "value": 0.490}, {"run": "+ Cap48M", "iter": 200000, "value": 0.470},
      {"run": "+ Cap48M", "iter": 215000, "value": 0.485}, {"run": "+ Cap48M", "iter": 230000, "value": 0.465}, {"run": "+ Cap48M", "iter": 245000, "value": 0.488},
      {"run": "+ Cap48M", "iter": 260000, "value": 0.470}, {"run": "+ Cap48M", "iter": 275000, "value": 0.495}, {"run": "+ Cap48M", "iter": 290000, "value": 0.462},
      {"run": "+ Cap48M", "iter": 305000, "value": 0.482}, {"run": "+ Cap48M", "iter": 320000, "value": 0.470}, {"run": "+ Cap48M", "iter": 335000, "value": 0.455},
      {"run": "+ Cap48M", "iter": 350000, "value": 0.488}, {"run": "+ Cap48M", "iter": 365000, "value": 0.470}, {"run": "+ Cap48M", "iter": 380000, "value": 0.495},
      {"run": "+ Cap48M", "iter": 395000, "value": 0.468}, {"run": "+ Cap48M", "iter": 410000, "value": 0.488}, {"run": "+ Cap48M", "iter": 425000, "value": 0.465},
      {"run": "+ Cap48M", "iter": 440000, "value": 0.455}, {"run": "+ Cap48M", "iter": 455000, "value": 0.485}, {"run": "+ Cap48M", "iter": 470000, "value": 0.468},
      {"run": "+ Cap48M", "iter": 485000, "value": 0.492}, {"run": "+ Cap48M", "iter": 500000, "value": 0.472}, {"run": "+ Cap48M", "iter": 515000, "value": 0.488},
      {"run": "+ Cap48M", "iter": 530000, "value": 0.465}, {"run": "+ Cap48M", "iter": 545000, "value": 0.490}, {"run": "+ Cap48M", "iter": 560000, "value": 0.470},
      {"run": "+ Cap48M", "iter": 575000, "value": 0.498}, {"run": "+ Cap48M", "iter": 590000, "value": 0.475}, {"run": "+ Cap48M", "iter": 605000, "value": 0.512},
      {"run": "+ Cap48M", "iter": 620000, "value": 0.482}, {"run": "+ Cap48M", "iter": 635000, "value": 0.505}, {"run": "+ Cap48M", "iter": 650000, "value": 0.478},
      {"run": "+ Cap48M", "iter": 665000, "value": 0.500}, {"run": "+ Cap48M", "iter": 680000, "value": 0.470}, {"run": "+ Cap48M", "iter": 695000, "value": 0.490},
      {"run": "+ Cap48M", "iter": 710000, "value": 0.478}, {"run": "+ Cap48M", "iter": 725000, "value": 0.492}, {"run": "+ Cap48M", "iter": 740000, "value": 0.505},
      {"run": "+ Cap48M", "iter": 755000, "value": 0.510}, {"run": "+ Cap48M", "iter": 770000, "value": 0.503}, {"run": "+ Cap48M", "iter": 785000, "value": 0.508},
      {"run": "+ Cap48M", "iter": 800000, "value": 0.505}, {"run": "+ Cap48M", "iter": 820000, "value": 0.510}, {"run": "+ Cap48M", "iter": 840000, "value": 0.506},
      {"run": "+ Cap48M", "iter": 860000, "value": 0.508}, {"run": "+ Cap48M", "iter": 880000, "value": 0.509}, {"run": "+ Cap48M", "iter": 900000, "value": 0.505},
      {"run": "+ Cap48M", "iter": 920000, "value": 0.507}, {"run": "+ Cap48M", "iter": 940000, "value": 0.513}, {"run": "+ Cap48M", "iter": 960000, "value": 0.508},
      {"run": "+ Cap48M", "iter": 980000, "value": 0.510}, {"run": "+ Cap48M", "iter": 995000, "value": 0.510}
    ],
    "br": [
      {"run": "+ 0M", "iter": 5000, "value": 0.406}, {"run": "+ 0M", "iter": 15000, "value": 0.405}, {"run": "+ 0M", "iter": 24000, "value": 0.388},
      {"run": "+ 0M", "iter": 30000, "value": 0.391}, {"run": "+ 0M", "iter": 38000, "value": 0.408}, {"run": "+ 0M", "iter": 44000, "value": 0.417},
      {"run": "+ 0M", "iter": 50000, "value": 0.423}, {"run": "+ 0M", "iter": 55000, "value": 0.414}, {"run": "+ 0M", "iter": 60000, "value": 0.427},
      {"run": "+ 0M", "iter": 65000, "value": 0.398}, {"run": "+ 0M", "iter": 70000, "value": 0.432}, {"run": "+ 0M", "iter": 76000, "value": 0.420},
      {"run": "+ 0M", "iter": 82000, "value": 0.439}, {"run": "+ 0M", "iter": 88000, "value": 0.443}, {"run": "+ 0M", "iter": 93000, "value": 0.417},
      {"run": "+ 0M", "iter": 104000, "value": 0.411}, {"run": "+ 0M", "iter": 110000, "value": 0.449}, {"run": "+ 0M", "iter": 115000, "value": 0.434},
      {"run": "+ 0M", "iter": 121000, "value": 0.440}, {"run": "+ 0M", "iter": 126000, "value": 0.449}, {"run": "+ 0M", "iter": 137000, "value": 0.414},
      {"run": "+ 0M", "iter": 148000, "value": 0.445}, {"run": "+ 0M", "iter": 159000, "value": 0.434}, {"run": "+ 0M", "iter": 170000, "value": 0.414},
      {"run": "+ 0M", "iter": 180000, "value": 0.455}, {"run": "+ 0M", "iter": 191000, "value": 0.408}, {"run": "+ 0M", "iter": 200000, "value": 0.452},
      {"run": "+ 0M", "iter": 211000, "value": 0.434}, {"run": "+ 0M", "iter": 225000, "value": 0.458}, {"run": "+ 0M", "iter": 235000, "value": 0.434},
      {"run": "+ 0M", "iter": 246000, "value": 0.398}, {"run": "+ 0M", "iter": 257000, "value": 0.443}, {"run": "+ 0M", "iter": 268000, "value": 0.449},
      {"run": "+ 0M", "iter": 280000, "value": 0.414}, {"run": "+ 0M", "iter": 290000, "value": 0.477}, {"run": "+ 0M", "iter": 300000, "value": 0.443},
      {"run": "+ 0M", "iter": 312000, "value": 0.452}, {"run": "+ 0M", "iter": 323000, "value": 0.437}, {"run": "+ 0M", "iter": 334000, "value": 0.423},
      {"run": "+ 0M", "iter": 345000, "value": 0.440}, {"run": "+ 0M", "iter": 356000, "value": 0.411}, {"run": "+ 0M", "iter": 367000, "value": 0.443},
      {"run": "+ 0M", "iter": 378000, "value": 0.426}, {"run": "+ 0M", "iter": 389000, "value": 0.398}, {"run": "+ 0M", "iter": 400000, "value": 0.443},
      {"run": "+ 0M", "iter": 411000, "value": 0.429}, {"run": "+ 0M", "iter": 422000, "value": 0.470}, {"run": "+ 0M", "iter": 428000, "value": 0.429},
      {"run": "+ 0M", "iter": 433000, "value": 0.400}, {"run": "+ 0M", "iter": 444000, "value": 0.458}, {"run": "+ 0M", "iter": 455000, "value": 0.455},
      {"run": "+ 0M", "iter": 465000, "value": 0.437}, {"run": "+ 0M", "iter": 476000, "value": 0.440}, {"run": "+ 0M", "iter": 487000, "value": 0.408},
      {"run": "+ 0M", "iter": 498000, "value": 0.400}, {"run": "+ 0M", "iter": 509000, "value": 0.410}, {"run": "+ 0M", "iter": 520000, "value": 0.414},
      {"run": "+ 0M", "iter": 531000, "value": 0.434}, {"run": "+ 0M", "iter": 542000, "value": 0.440}, {"run": "+ 0M", "iter": 553000, "value": 0.431},
      {"run": "+ 0M", "iter": 564000, "value": 0.430}, {"run": "+ 0M", "iter": 575000, "value": 0.426}, {"run": "+ 0M", "iter": 586000, "value": 0.431},
      {"run": "+ 0M", "iter": 597000, "value": 0.427}, {"run": "+ 0M", "iter": 608000, "value": 0.425}, {"run": "+ 0M", "iter": 619000, "value": 0.423},
      {"run": "+ 0M", "iter": 625000, "value": 0.408}, {"run": "+ 0M", "iter": 635000, "value": 0.425}, {"run": "+ 0M", "iter": 646000, "value": 0.433},
      {"run": "+ 0M", "iter": 657000, "value": 0.430}, {"run": "+ 0M", "iter": 668000, "value": 0.431}, {"run": "+ 0M", "iter": 679000, "value": 0.428},
      {"run": "+ 0M", "iter": 690000, "value": 0.428}, {"run": "+ 0M", "iter": 700000, "value": 0.431}, {"run": "+ 0M", "iter": 706000, "value": 0.408},
      {"run": "+ 0M", "iter": 712000, "value": 0.430}, {"run": "+ 0M", "iter": 728000, "value": 0.427}, {"run": "+ 0M", "iter": 750000, "value": 0.426},
      {"run": "+ 0M", "iter": 772000, "value": 0.425}, {"run": "+ 0M", "iter": 794000, "value": 0.426},
      {"run": "+ Cap4M", "iter": 5000, "value": 0.459}, {"run": "+ Cap4M", "iter": 11000, "value": 0.461}, {"run": "+ Cap4M", "iter": 18000, "value": 0.465},
      {"run": "+ Cap4M", "iter": 25000, "value": 0.497}, {"run": "+ Cap4M", "iter": 33000, "value": 0.475}, {"run": "+ Cap4M", "iter": 44000, "value": 0.481},
      {"run": "+ Cap4M", "iter": 49000, "value": 0.470}, {"run": "+ Cap4M", "iter": 60000, "value": 0.481}, {"run": "+ Cap4M", "iter": 71000, "value": 0.464},
      {"run": "+ Cap4M", "iter": 82000, "value": 0.484}, {"run": "+ Cap4M", "iter": 93000, "value": 0.475}, {"run": "+ Cap4M", "iter": 104000, "value": 0.493},
      {"run": "+ Cap4M", "iter": 115000, "value": 0.487}, {"run": "+ Cap4M", "iter": 126000, "value": 0.493}, {"run": "+ Cap4M", "iter": 137000, "value": 0.505},
      {"run": "+ Cap4M", "iter": 148000, "value": 0.490}, {"run": "+ Cap4M", "iter": 159000, "value": 0.496}, {"run": "+ Cap4M", "iter": 170000, "value": 0.475},
      {"run": "+ Cap4M", "iter": 181000, "value": 0.490}, {"run": "+ Cap4M", "iter": 191000, "value": 0.470}, {"run": "+ Cap4M", "iter": 202000, "value": 0.493},
      {"run": "+ Cap4M", "iter": 214000, "value": 0.464}, {"run": "+ Cap4M", "iter": 225000, "value": 0.493}, {"run": "+ Cap4M", "iter": 235000, "value": 0.470},
      {"run": "+ Cap4M", "iter": 246000, "value": 0.464}, {"run": "+ Cap4M", "iter": 257000, "value": 0.490}, {"run": "+ Cap4M", "iter": 268000, "value": 0.502},
      {"run": "+ Cap4M", "iter": 279000, "value": 0.507}, {"run": "+ Cap4M", "iter": 290000, "value": 0.499}, {"run": "+ Cap4M", "iter": 301000, "value": 0.507},
      {"run": "+ Cap4M", "iter": 312000, "value": 0.496}, {"run": "+ Cap4M", "iter": 323000, "value": 0.516}, {"run": "+ Cap4M", "iter": 334000, "value": 0.502},
      {"run": "+ Cap4M", "iter": 345000, "value": 0.502}, {"run": "+ Cap4M", "iter": 356000, "value": 0.490}, {"run": "+ Cap4M", "iter": 367000, "value": 0.499},
      {"run": "+ Cap4M", "iter": 378000, "value": 0.475}, {"run": "+ Cap4M", "iter": 389000, "value": 0.470}, {"run": "+ Cap4M", "iter": 400000, "value": 0.487},
      {"run": "+ Cap4M", "iter": 411000, "value": 0.499}, {"run": "+ Cap4M", "iter": 422000, "value": 0.487}, {"run": "+ Cap4M", "iter": 433000, "value": 0.499},
      {"run": "+ Cap4M", "iter": 444000, "value": 0.505}, {"run": "+ Cap4M", "iter": 455000, "value": 0.496}, {"run": "+ Cap4M", "iter": 465000, "value": 0.507},
      {"run": "+ Cap4M", "iter": 476000, "value": 0.502}, {"run": "+ Cap4M", "iter": 487000, "value": 0.481}, {"run": "+ Cap4M", "iter": 498000, "value": 0.496},
      {"run": "+ Cap4M", "iter": 509000, "value": 0.510}, {"run": "+ Cap4M", "iter": 520000, "value": 0.493}, {"run": "+ Cap4M", "iter": 531000, "value": 0.502},
      {"run": "+ Cap4M", "iter": 542000, "value": 0.507}, {"run": "+ Cap4M", "iter": 548000, "value": 0.522}, {"run": "+ Cap4M", "iter": 553000, "value": 0.496},
      {"run": "+ Cap4M", "iter": 564000, "value": 0.502}, {"run": "+ Cap4M", "iter": 575000, "value": 0.522}, {"run": "+ Cap4M", "iter": 586000, "value": 0.528},
      {"run": "+ Cap4M", "iter": 597000, "value": 0.525}, {"run": "+ Cap4M", "iter": 608000, "value": 0.532}, {"run": "+ Cap4M", "iter": 619000, "value": 0.529},
      {"run": "+ Cap4M", "iter": 630000, "value": 0.525}, {"run": "+ Cap4M", "iter": 641000, "value": 0.526}, {"run": "+ Cap4M", "iter": 652000, "value": 0.524},
      {"run": "+ Cap4M", "iter": 663000, "value": 0.529}, {"run": "+ Cap4M", "iter": 673000, "value": 0.530}, {"run": "+ Cap4M", "iter": 684000, "value": 0.522},
      {"run": "+ Cap4M", "iter": 695000, "value": 0.525}, {"run": "+ Cap4M", "iter": 706000, "value": 0.524}, {"run": "+ Cap4M", "iter": 728000, "value": 0.525},
      {"run": "+ Cap4M", "iter": 750000, "value": 0.527}, {"run": "+ Cap4M", "iter": 772000, "value": 0.528}, {"run": "+ Cap4M", "iter": 794000, "value": 0.528},
      {"run": "+ Cap12M", "iter": 5000, "value": 0.472}, {"run": "+ Cap12M", "iter": 11000, "value": 0.471}, {"run": "+ Cap12M", "iter": 16000, "value": 0.467},
      {"run": "+ Cap12M", "iter": 22000, "value": 0.475}, {"run": "+ Cap12M", "iter": 33000, "value": 0.487}, {"run": "+ Cap12M", "iter": 38000, "value": 0.461},
      {"run": "+ Cap12M", "iter": 44000, "value": 0.459}, {"run": "+ Cap12M", "iter": 47000, "value": 0.449}, {"run": "+ Cap12M", "iter": 55000, "value": 0.493},
      {"run": "+ Cap12M", "iter": 60000, "value": 0.481}, {"run": "+ Cap12M", "iter": 71000, "value": 0.484}, {"run": "+ Cap12M", "iter": 82000, "value": 0.472},
      {"run": "+ Cap12M", "iter": 93000, "value": 0.487}, {"run": "+ Cap12M", "iter": 104000, "value": 0.472}, {"run": "+ Cap12M", "iter": 115000, "value": 0.493},
      {"run": "+ Cap12M", "iter": 121000, "value": 0.464}, {"run": "+ Cap12M", "iter": 132000, "value": 0.502}, {"run": "+ Cap12M", "iter": 142000, "value": 0.493},
      {"run": "+ Cap12M", "iter": 148000, "value": 0.493}, {"run": "+ Cap12M", "iter": 159000, "value": 0.484}, {"run": "+ Cap12M", "iter": 170000, "value": 0.487},
      {"run": "+ Cap12M", "iter": 180000, "value": 0.480}, {"run": "+ Cap12M", "iter": 191000, "value": 0.484}, {"run": "+ Cap12M", "iter": 200000, "value": 0.513},
      {"run": "+ Cap12M", "iter": 206000, "value": 0.472}, {"run": "+ Cap12M", "iter": 217000, "value": 0.510}, {"run": "+ Cap12M", "iter": 222000, "value": 0.484},
      {"run": "+ Cap12M", "iter": 235000, "value": 0.472}, {"run": "+ Cap12M", "iter": 246000, "value": 0.507}, {"run": "+ Cap12M", "iter": 257000, "value": 0.481},
      {"run": "+ Cap12M", "iter": 268000, "value": 0.496}, {"run": "+ Cap12M", "iter": 279000, "value": 0.493}, {"run": "+ Cap12M", "iter": 290000, "value": 0.507},
      {"run": "+ Cap12M", "iter": 300000, "value": 0.513}, {"run": "+ Cap12M", "iter": 312000, "value": 0.487}, {"run": "+ Cap12M", "iter": 323000, "value": 0.507},
      {"run": "+ Cap12M", "iter": 334000, "value": 0.502}, {"run": "+ Cap12M", "iter": 345000, "value": 0.493}, {"run": "+ Cap12M", "iter": 356000, "value": 0.502},
      {"run": "+ Cap12M", "iter": 367000, "value": 0.490}, {"run": "+ Cap12M", "iter": 378000, "value": 0.505}, {"run": "+ Cap12M", "iter": 389000, "value": 0.484},
      {"run": "+ Cap12M", "iter": 400000, "value": 0.507}, {"run": "+ Cap12M", "iter": 411000, "value": 0.493}, {"run": "+ Cap12M", "iter": 422000, "value": 0.487},
      {"run": "+ Cap12M", "iter": 433000, "value": 0.484}, {"run": "+ Cap12M", "iter": 444000, "value": 0.496}, {"run": "+ Cap12M", "iter": 455000, "value": 0.499},
      {"run": "+ Cap12M", "iter": 465000, "value": 0.493}, {"run": "+ Cap12M", "iter": 476000, "value": 0.467}, {"run": "+ Cap12M", "iter": 482000, "value": 0.465},
      {"run": "+ Cap12M", "iter": 487000, "value": 0.484}, {"run": "+ Cap12M", "iter": 498000, "value": 0.502}, {"run": "+ Cap12M", "iter": 509000, "value": 0.487},
      {"run": "+ Cap12M", "iter": 520000, "value": 0.507}, {"run": "+ Cap12M", "iter": 531000, "value": 0.513}, {"run": "+ Cap12M", "iter": 542000, "value": 0.493},
      {"run": "+ Cap12M", "iter": 553000, "value": 0.505}, {"run": "+ Cap12M", "iter": 564000, "value": 0.510}, {"run": "+ Cap12M", "iter": 575000, "value": 0.493},
      {"run": "+ Cap12M", "iter": 586000, "value": 0.509}, {"run": "+ Cap12M", "iter": 597000, "value": 0.510}, {"run": "+ Cap12M", "iter": 608000, "value": 0.502},
      {"run": "+ Cap12M", "iter": 619000, "value": 0.502}, {"run": "+ Cap12M", "iter": 630000, "value": 0.498}, {"run": "+ Cap12M", "iter": 640000, "value": 0.496},
      {"run": "+ Cap12M", "iter": 652000, "value": 0.498}, {"run": "+ Cap12M", "iter": 663000, "value": 0.513}, {"run": "+ Cap12M", "iter": 668000, "value": 0.524},
      {"run": "+ Cap12M", "iter": 673000, "value": 0.530}, {"run": "+ Cap12M", "iter": 684000, "value": 0.527}, {"run": "+ Cap12M", "iter": 695000, "value": 0.529},
      {"run": "+ Cap12M", "iter": 706000, "value": 0.527}, {"run": "+ Cap12M", "iter": 717000, "value": 0.532}, {"run": "+ Cap12M", "iter": 728000, "value": 0.531},
      {"run": "+ Cap12M", "iter": 739000, "value": 0.534}, {"run": "+ Cap12M", "iter": 750000, "value": 0.530}, {"run": "+ Cap12M", "iter": 761000, "value": 0.532},
      {"run": "+ Cap12M", "iter": 772000, "value": 0.534}, {"run": "+ Cap12M", "iter": 783000, "value": 0.531}, {"run": "+ Cap12M", "iter": 794000, "value": 0.533},
      {"run": "+ Cap12M", "iter": 816000, "value": 0.530}, {"run": "+ Cap12M", "iter": 827000, "value": 0.531}, {"run": "+ Cap12M", "iter": 838000, "value": 0.533},
      {"run": "+ Cap12M", "iter": 860000, "value": 0.534}, {"run": "+ Cap12M", "iter": 871000, "value": 0.530}, {"run": "+ Cap12M", "iter": 882000, "value": 0.531},
      {"run": "+ Cap12M", "iter": 904000, "value": 0.531}, {"run": "+ Cap12M", "iter": 925000, "value": 0.530}, {"run": "+ Cap12M", "iter": 947000, "value": 0.531},
      {"run": "+ Cap12M", "iter": 969000, "value": 0.531}, {"run": "+ Cap12M", "iter": 990000, "value": 0.5316}
    ]
  },
  "concat": [
    {
      "width": 331, "height": 185,
      "title": {"text": "Dataset \"coco_2017_val\", Task \"bbox\"", "dy": 17},
      "data": {"name": "tl"},
      "layer": [
        {
          "mark": {"type": "line", "strokeWidth": 1, "opacity": 0.85},
          "encoding": {
            "x": {"field": "iter", "type": "quantitative", "scale": {"domain": [-45000, 1045000], "nice": false, "zero": false},
                  "axis": {"values": [0, 200000, 400000, 600000, 800000, 1000000], "tickCount": 20, "labelExpr": "format(datum.value / 1000000, '.1f')", "title": "iteration"}},
            "y": {"field": "value", "type": "quantitative", "scale": {"domain": [0.163, 0.507], "nice": false, "zero": false},
                  "axis": {"values": [0.2, 0.25, 0.3, 0.35, 0.4, 0.45, 0.5], "tickCount": 20, "format": ".2f", "title": "Average Precision \u00a0AP \u00a0IoU050095 \u00a0area \u00a0 all \u00a0maxDets100"}},
            "color": {"field": "run", "type": "nominal", "title": null,
                      "scale": {"domain": ["+ 0M", "+ Cap4M", "+ Cap12M", "+ Cap48M"], "range": ["#1f77b4", "#ff7f0e", "#2ca02c", "#d62728"]},
                      "legend": {"orient": "bottom-right"}}
          }
        },
        {
          "data": {"values": [{}]},
          "mark": {"type": "text", "text": "1e6", "align": "right", "baseline": "middle", "dy": 14.5, "fontSize": 7.6},
          "encoding": {"x": {"datum": 1045000, "type": "quantitative"}, "y": {"datum": 0.163, "type": "quantitative"}}
        }
      ]
    },
    {
      "width": 330, "height": 185,
      "title": {"text": "Dataset \"coco_2017_val\", Task \"bbox\"", "dy": 17},
      "data": {"name": "tr"},
      "layer": [
        {
          "mark": {"type": "line", "strokeWidth": 1, "opacity": 0.85},
          "encoding": {
            "x": {"field": "iter", "type": "quantitative", "scale": {"domain": [-45000, 1045000], "nice": false, "zero": false},
                  "axis": {"values": [0, 200000, 400000, 600000, 800000, 1000000], "tickCount": 20, "labelExpr": "format(datum.value / 1000000, '.1f')", "title": "iteration"}},
            "y": {"field": "value", "type": "quantitative", "scale": {"domain": [0.3567, 0.5003], "nice": false, "zero": false},
                  "axis": {"values": [0.36, 0.38, 0.4, 0.42, 0.44, 0.46, 0.48], "tickCount": 20, "format": ".2f", "title": "Average Precision \u00a0AP \u00a0IoU050095 \u00a0area \u00a0 all \u00a0maxDets100"}},
            "color": {"field": "run", "type": "nominal", "title": null,
                      "scale": {"domain": ["+ 0M", "+ Cap4M", "+ Cap12M"], "range": ["#1f77b4", "#ff7f0e", "#2ca02c"]},
                      "legend": {"orient": "top-left"}}
          }
        },
        {
          "data": {"values": [{}]},
          "mark": {"type": "text", "text": "1e6", "align": "right", "baseline": "middle", "dy": 14.5, "fontSize": 7.6},
          "encoding": {"x": {"datum": 1045000, "type": "quantitative"}, "y": {"datum": 0.3567, "type": "quantitative"}}
        }
      ]
    },
    {
      "width": 331, "height": 183,
      "title": "Dataset \"all_test_dataset\", Task \"bbox\"",
      "data": {"name": "bl"},
      "layer": [
        {
          "mark": {"type": "line", "strokeWidth": 1, "opacity": 0.85},
          "encoding": {
            "x": {"field": "iter", "type": "quantitative", "scale": {"domain": [-45000, 1045000], "nice": false, "zero": false},
                  "axis": {"values": [0, 200000, 400000, 600000, 800000, 1000000], "tickCount": 20, "labelExpr": "format(datum.value / 1000000, '.1f')", "title": "iteration"}},
            "y": {"field": "value", "type": "quantitative", "scale": {"domain": [0.2764, 0.5335], "nice": false, "zero": false},
                  "axis": {"values": [0.3, 0.35, 0.4, 0.45, 0.5], "tickCount": 20, "format": ".2f", "title": "map"}},
            "color": {"field": "run", "type": "nominal", "title": null,
                      "scale": {"domain": ["+ 0M", "+ Cap4M", "+ Cap12M", "+ Cap48M"], "range": ["#1f77b4", "#ff7f0e", "#2ca02c", "#d62728"]},
                      "legend": {"orient": "bottom-right"}}
          }
        },
        {
          "data": {"values": [{}]},
          "mark": {"type": "text", "text": "1e6", "align": "right", "baseline": "middle", "dy": 14.5, "fontSize": 7.6},
          "encoding": {"x": {"datum": 1045000, "type": "quantitative"}, "y": {"datum": 0.2764, "type": "quantitative"}}
        }
      ]
    },
    {
      "width": 330, "height": 183,
      "title": "Dataset \"all_test_dataset\", Task \"bbox\"",
      "data": {"name": "br"},
      "layer": [
        {
          "mark": {"type": "line", "strokeWidth": 1, "opacity": 0.85},
          "encoding": {
            "x": {"field": "iter", "type": "quantitative", "scale": {"domain": [-45000, 1045000], "nice": false, "zero": false},
                  "axis": {"values": [0, 200000, 400000, 600000, 800000, 1000000], "tickCount": 20, "labelExpr": "format(datum.value / 1000000, '.1f')", "title": "iteration"}},
            "y": {"field": "value", "type": "quantitative", "scale": {"domain": [0.3817, 0.5415], "nice": false, "zero": false},
                  "axis": {"values": [0.4, 0.42, 0.44, 0.46, 0.48, 0.5, 0.52, 0.54], "tickCount": 20, "format": ".2f", "title": "map"}},
            "color": {"field": "run", "type": "nominal", "title": null,
                      "scale": {"domain": ["+ 0M", "+ Cap4M", "+ Cap12M"], "range": ["#1f77b4", "#ff7f0e", "#2ca02c"]},
                      "legend": {"orient": "bottom-right"}}
          }
        },
        {
          "data": {"values": [{}]},
          "mark": {"type": "text", "text": "1e6", "align": "right", "baseline": "middle", "dy": 14.5, "fontSize": 7.6},
          "encoding": {"x": {"datum": 1045000, "type": "quantitative"}, "y": {"datum": 0.3817, "type": "quantitative"}}
        }
      ]
    }
  ],
  "resolve": {"scale": {"color": "independent", "x": "independent", "y": "independent"}, "legend": {"color": "independent"}},
  "config": {
    "font": "DejaVu Sans",
    "view": {"stroke": "#555", "strokeWidth": 0.8},
    "axis": {
      "grid": false, "domain": false, "tickColor": "#333", "tickSize": 2, "tickWidth": 0.7,
      "labelFontSize": 7.8, "titleFontSize": 7.6, "labelColor": "#222", "titleColor": "#222",
      "titleFontWeight": "normal", "labelPadding": 0.5, "titlePadding": 1, "labelOverlap": false
    },
    "title": {"fontSize": 9, "fontWeight": "normal", "color": "#222", "offset": 3, "frame": "group"},
    "text": {"color": "#222"},
    "legend": {
      "offset": 3.5, "symbolType": "stroke", "symbolSize": 324, "symbolStrokeWidth": 1.2, "symbolOpacity": 0.7,
      "labelFontSize": 6.2, "labelColor": "#222", "labelOffset": 5, "rowPadding": 3.6, "clipHeight": 8,
      "strokeColor": "#ccc", "fillColor": "white", "padding": 4, "cornerRadius": 2
    }
  }
}
